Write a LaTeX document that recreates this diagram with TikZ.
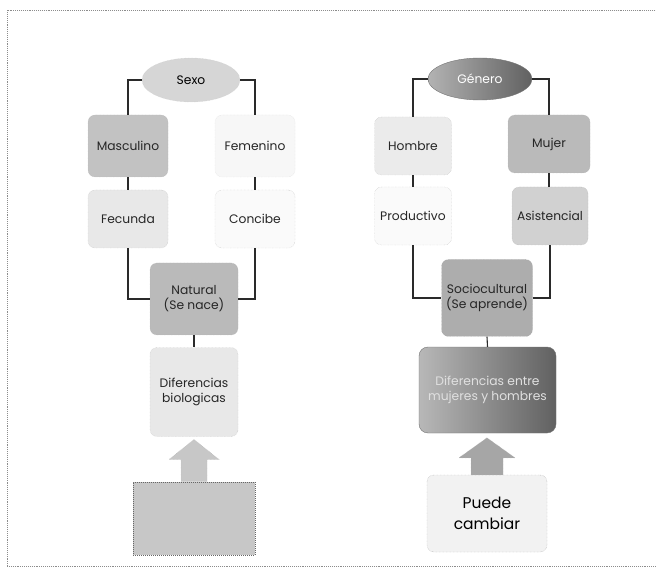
\documentclass[tikz,border=0pt]{standalone}
\usepackage{fontspec}
\setmainfont{Poppins}
\usetikzlibrary{shapes.geometric,calc}
\definecolor{cDark}{HTML}{2A2A2A}
\tikzset{
  conn/.style={draw=cDark, line width=1.1pt},
  boxn/.style={rounded corners=7pt, align=center, inner sep=1pt,
    font=\fontsize{12.3}{15}\selectfont, text=black!85},
  ovaln/.style={ellipse, align=center, inner sep=1pt, font=\fontsize{12.3}{15}\selectfont},
  blockarrow/.style={fill=black!22, draw=black!30, line width=0.4pt, densely dotted},
}
\begin{document}
\begin{tikzpicture}[x=1pt,y=-1pt]
\useasboundingbox (0,0) rectangle (656,577);
\fill[white] (0,0) rectangle (656,577);
% frame
\draw[black!45, line width=0.9pt, densely dotted] (7,566) -- (7,10) -- (660,10);
\draw[black!45, line width=0.9pt, densely dotted] (7,566) -- (660,566);

% ---------- left diagram ----------
\node[ovaln, fill=black!16, draw=black!20, densely dotted, minimum width=98pt, minimum height=44pt] (sexo) at (191,80) {Sexo};
\node[boxn, fill=black!24, draw=black!30, densely dotted, minimum width=80pt, minimum height=62pt] (masc) at (128,146) {Masculino};
\node[boxn, fill=black!3, draw=black!15, densely dotted, minimum width=80pt, minimum height=62pt] (fem) at (255,146) {Femenino};
\node[boxn, fill=black!9, draw=black!25, densely dotted, minimum width=80pt, minimum height=58pt] (fec) at (128,219) {Fecunda};
\node[boxn, fill=black!2, draw=black!25, densely dotted, minimum width=80pt, minimum height=58pt] (con) at (255,219) {Concibe};
\node[boxn, fill=black!27, draw=black!30, densely dotted, minimum width=88pt, minimum height=72pt] (nat) at (194,299) {Natural\\(Se nace)};
\node[boxn, fill=black!9, draw=black!25, densely dotted, minimum width=88pt, minimum height=89pt] (dif) at (194,392) {Diferencias\\biologicas};
\node[fill=black!22, draw=black!60, densely dotted, line width=1pt, minimum width=122pt, minimum height=73pt] (bot) at (194,518.5) {};

\draw[conn] (sexo.west) -| (masc.north);
\draw[conn] (sexo.east) -| (fem.north);
\draw[conn] (masc.south) -- (fec.north);
\draw[conn] (fem.south) -- (con.north);
\draw[conn] (fec.south) |- (nat.west);
\draw[conn] (con.south) |- (nat.east);
\draw[conn] (nat.south) -- (dif.north);
\path[blockarrow] ([xshift=-13pt]bot.north) -- ([xshift=-13pt,yshift=22pt]bot.north)
  -- ([xshift=-25pt,yshift=22pt]bot.north) -- ([yshift=42pt]bot.north)
  -- ([xshift=25pt,yshift=22pt]bot.north) -- ([xshift=13pt,yshift=22pt]bot.north)
  -- ([xshift=13pt]bot.north) -- cycle;

% ---------- right diagram ----------
\node[ovaln, left color=black!30, right color=black!62, draw=black!55, minimum width=104pt, minimum height=42pt, text=white] (gen) at (480,79) {Género};
\node[boxn, fill=black!8, draw=black!25, densely dotted, minimum width=77pt, minimum height=58pt] (hom) at (413,146) {Hombre};
\node[boxn, fill=black!27, draw=black!30, densely dotted, minimum width=82pt, minimum height=58pt] (muj) at (549,144) {Mujer};
\node[boxn, fill=black!2, draw=black!25, densely dotted, minimum width=77pt, minimum height=58pt] (pro) at (413,216) {Productivo};
\node[boxn, fill=black!18, draw=black!30, densely dotted, minimum width=76pt, minimum height=58pt] (asi) at (550,216) {Asistencial};
\node[boxn, fill=black!32, draw=black!35, densely dotted, minimum width=91pt, minimum height=77pt] (soc) at (487,298) {Sociocultural\\(Se aprende)};
\node[boxn, rounded corners=9pt, left color=black!28, right color=black!62, draw=black!55, minimum width=137pt, minimum height=86pt, text=black!12] (dark) at (487.5,390) {Diferencias entre\\mujeres y hombres};
\node[boxn, fill=black!5, draw=black!35, densely dotted, minimum width=120pt, minimum height=77pt, font=\fontsize{15.5}{21}\selectfont, text=black] (puede) at (487,513.5) {Puede\\cambiar};

\draw[conn] (gen.west) -| (hom.north);
\draw[conn] (gen.east) -| (muj.north);
\draw[conn] (hom.south) -- (pro.north);
\draw[conn] (muj.south) -- ([xshift=-1pt]asi.north);
\draw[conn] (pro.south) |- (soc.west);
\draw[conn] (asi.south) |- (soc.east);
\draw[conn] (soc.south) -- (dark.north);
\path[blockarrow, fill=black!35] ([xshift=-16pt]puede.north) -- ([xshift=-16pt,yshift=17pt]puede.north)
  -- ([xshift=-28pt,yshift=17pt]puede.north) -- ([yshift=37pt]puede.north)
  -- ([xshift=28pt,yshift=17pt]puede.north) -- ([xshift=16pt,yshift=17pt]puede.north)
  -- ([xshift=16pt]puede.north) -- cycle;
\end{tikzpicture}
\end{document}
